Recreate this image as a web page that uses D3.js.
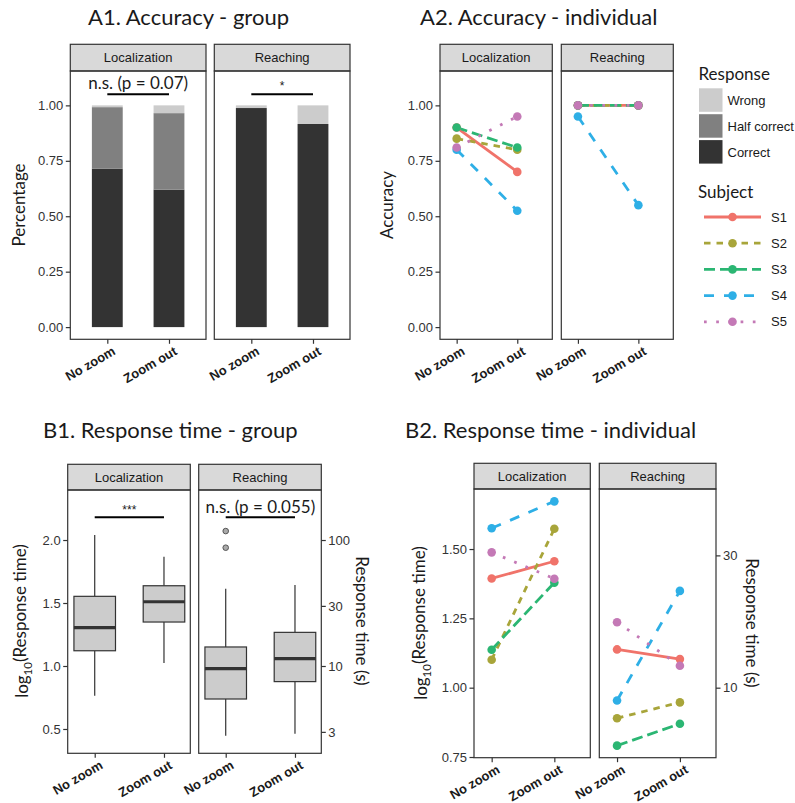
<!DOCTYPE html>
<html><head><meta charset="utf-8">
<script src="https://cdn.jsdelivr.net/npm/d3@7"></script>
<style>body{margin:0;background:#fff}</style>
</head><body>
<svg id="c" width="795" height="803"></svg>
<script>
// ---------------- data ----------------
const conditions = ["No zoom", "Zoom out"];
const tasks = ["Localization", "Reaching"];
const responses = ["Wrong", "Half correct", "Correct"];
const responseColors = ["#CCCCCC", "#808080", "#333333"];

// A1: proportions per condition (No zoom, Zoom out)
const accCorrectLoc = [0.714, 0.620];
const accHalfLoc = [0.278, 0.345];
const accWrongLoc = [0.008, 0.035];
const accCorrectReach = [0.988, 0.916];
const accHalfReach = [0.000, 0.000];
const accWrongReach = [0.012, 0.084];
const accTicks = [0, 0.25, 0.5, 0.75, 1.0];
const sigA1 = ["n.s. (p = 0.07)", "*"];

// A2: individual accuracy, [No zoom, Zoom out] per subject
const subjects = ["S1", "S2", "S3", "S4", "S5"];
const subjectColors = ["#F0736A", "#A8A53A", "#2BB673", "#2EAFE6", "#C479B6"];
const subjectDash = [null, "6.5,6", "11,5", "10,10", "2.7,9.5"];
const accIndLoc = [[0.90, 0.70], [0.85, 0.80], [0.90, 0.81], [0.80, 0.525], [0.81, 0.95]];
const accIndReach = [[1.00, 1.00], [1.00, 1.00], [1.00, 1.00], [0.95, 0.55], [1.00, 1.00]];

// B1: boxplot stats [lower whisker, Q1, median, Q3, upper whisker] of log10(RT)
const rtBoxLoc = [[0.764, 1.121, 1.304, 1.553, 2.040], [1.024, 1.349, 1.510, 1.637, 1.868]];
const rtBoxReach = [[0.447, 0.738, 0.979, 1.151, 1.613], [0.463, 0.876, 1.058, 1.267, 1.643]];
const rtOutLoc = [[], []];
const rtOutReach = [[2.071, 1.939], []];
const rtTicksB1 = [0.5, 1.0, 1.5, 2.0];
const rtSecTicksB1 = [3, 10, 30, 100];
const sigB1 = ["***", "n.s. (p = 0.055)"];

// B2: individual log10(RT), [No zoom, Zoom out]
const rtIndLoc = [[1.394, 1.456], [1.101, 1.573], [1.137, 1.379], [1.575, 1.672], [1.488, 1.393]];
const rtIndReach = [[1.138, 1.103], [0.890, 0.947], [0.791, 0.870], [0.954, 1.349], [1.236, 1.079]];
const rtTicksB2 = [0.75, 1.00, 1.25, 1.50];
const rtSecTicksB2 = [10, 30];

// ---------------- drawing ----------------
const svg = d3.select("#c");
const TF = "Lato, 'Open Sans', sans-serif";
const AF = "'Liberation Sans', Arial, sans-serif";
const INK = "#333333";

function facets(opt) {
  const y = d3.scaleLinear().domain(opt.yDomain).range([opt.bottom, opt.stripBottom]);
  opt.panels.forEach((p, i) => {
    const x = d3.scaleLinear().domain(opt.xDomain).range(p);
    const g = svg.append("g");
    g.append("rect").attr("x", p[0]).attr("y", opt.stripTop)
      .attr("width", p[1] - p[0]).attr("height", opt.stripBottom - opt.stripTop)
      .attr("fill", "#D9D9D9").attr("stroke", INK).attr("stroke-width", 1.2);
    g.append("text").text(tasks[i])
      .attr("x", (p[0] + p[1]) / 2).attr("y", (opt.stripTop + opt.stripBottom) / 2)
      .attr("dy", "0.36em").attr("text-anchor", "middle")
      .attr("font-family", AF).attr("font-size", 13).attr("fill", "#1a1a1a");
    opt.draw(g, i, x, y);
    g.append("rect").attr("x", p[0]).attr("y", opt.stripBottom)
      .attr("width", p[1] - p[0]).attr("height", opt.bottom - opt.stripBottom)
      .attr("fill", "none").attr("stroke", INK).attr("stroke-width", 1.2);
    // x axis
    const xa = g.append("g").attr("transform", `translate(0,${opt.bottom})`)
      .call(d3.axisBottom(x).tickValues([1, 2]).tickFormat(d => conditions[d - 1]).tickSize(4.5));
    xa.select(".domain").remove();
    xa.selectAll("line").attr("stroke", INK).attr("stroke-width", 1.2);
    xa.selectAll("text").attr("x", 0).attr("y", 0).attr("dy", null)
      .attr("text-anchor", "end").attr("transform", "translate(8.5,14.5) rotate(-30)")
      .attr("font-family", AF).attr("font-size", 13).attr("font-weight", "bold").attr("fill", "#1a1a1a");
    if (i === 0) {
      const ya = g.append("g").attr("transform", `translate(${p[0]},0)`)
        .call(d3.axisLeft(y).tickValues(opt.yTicks).tickFormat(opt.yFmt).tickSize(4.5).tickPadding(2.5));
      ya.select(".domain").remove();
      ya.selectAll("line").attr("stroke", INK).attr("stroke-width", 1.2);
      ya.selectAll("text").attr("font-family", AF).attr("font-size", 13).attr("fill", INK);
    }
    if (i === 1 && opt.secTicks) {
      const sa = g.append("g").attr("transform", `translate(${p[1]},0)`)
        .call(d3.axisRight(y).tickValues(opt.secTicks.map(v => Math.log10(v)))
          .tickFormat(v => d3.format("d")(Math.round(Math.pow(10, v)))).tickSize(4.5).tickPadding(2.5));
      sa.select(".domain").remove();
      sa.selectAll("line").attr("stroke", INK).attr("stroke-width", 1.2);
      sa.selectAll("text").attr("font-family", AF).attr("font-size", 13).attr("fill", INK);
    }
  });
  return y;
}

function title(txt, x, y) {
  svg.append("text").text(txt).attr("x", x).attr("y", y)
    .attr("font-family", TF).attr("font-size", 22).attr("fill", "#1a1a1a");
}
function yLabel(txt, x, y, rot) {
  return svg.append("text").text(txt).attr("transform", `translate(${x},${y}) rotate(${rot})`)
    .attr("text-anchor", "middle").attr("dy", "0.35em")
    .attr("font-family", TF).attr("font-size", 17).attr("fill", "#1a1a1a");
}
function logLabel(x, y) {
  const t = svg.append("text").attr("transform", `translate(${x},${y}) rotate(-90)`)
    .attr("text-anchor", "middle").attr("dy", "0.35em")
    .attr("font-family", TF).attr("font-size", 17).attr("fill", "#1a1a1a");
  t.append("tspan").text("log");
  t.append("tspan").text("10").attr("font-size", 11.5).attr("dy", "0.35em");
  t.append("tspan").text("(Response time)").attr("dy", "-0.35em");
}
function sig(g, x, y, lineV, textV, label) {
  g.append("line").attr("x1", x(1)).attr("x2", x(2)).attr("y1", y(lineV)).attr("y2", y(lineV))
    .attr("stroke", "#000").attr("stroke-width", 2);
  const star = label.indexOf("*") === 0;
  g.append("text").text(label).attr("x", (x(1) + x(2)) / 2).attr("y", y(textV))
    .attr("dy", star ? "0.55em" : "0.33em").attr("text-anchor", "middle")
    .attr("font-family", star ? AF : TF).attr("font-size", star ? 12 : 17).attr("fill", "#1a1a1a");
}
function lines(g, x, y, data) {
  data.forEach((vals, s) => {
    g.append("path").datum(vals)
      .attr("d", d3.line().x((d, k) => x(k + 1)).y(d => y(d)))
      .attr("fill", "none").attr("stroke", subjectColors[s]).attr("stroke-width", 2.8)
      .attr("stroke-dasharray", subjectDash[s]);
  });
  data.forEach((vals, s) => {
    g.selectAll(null).data(vals).enter().append("circle")
      .attr("cx", (d, k) => x(k + 1)).attr("cy", d => y(d)).attr("r", 4.3)
      .attr("fill", subjectColors[s]);
  });
}

// ---- A1 ----
title("A1. Accuracy - group", 88, 25);
facets({
  panels: [[70.3, 206], [214.3, 350]], stripTop: 44.3, stripBottom: 71, bottom: 339.3,
  yDomain: [-0.055, 1.155], xDomain: [0.4, 2.6], yTicks: accTicks, yFmt: d3.format(".2f"),
  draw: (g, i, x, y) => {
    const stacks = i === 0 ? [accCorrectLoc, accHalfLoc, accWrongLoc] : [accCorrectReach, accHalfReach, accWrongReach];
    const cols = [responseColors[2], responseColors[1], responseColors[0]];
    conditions.forEach((c, k) => {
      let base = 0;
      stacks.forEach((arr, j) => {
        const v = arr[k];
        if (v > 0) {
          g.append("rect").attr("x", x(k + 1 - 0.25)).attr("width", x(k + 1.25) - x(k + 0.75))
            .attr("y", y(base + v)).attr("height", y(base) - y(base + v)).attr("fill", cols[j]);
        }
        base += v;
      });
    });
    sig(g, x, y, 1.05, 1.1, sigA1[i]);
  }
});
yLabel("Percentage", 19, 205, -90);

// ---- A2 ----
title("A2. Accuracy - individual", 420, 25);
facets({
  panels: [[440, 552.3], [561.3, 673.3]], stripTop: 44.3, stripBottom: 71, bottom: 339.3,
  yDomain: [-0.055, 1.155], xDomain: [0.725, 2.578], yTicks: accTicks, yFmt: d3.format(".2f"),
  draw: (g, i, x, y) => lines(g, x, y, i === 0 ? accIndLoc : accIndReach)
});
yLabel("Accuracy", 387, 205, -90);

// legends
const lg = svg.append("g");
lg.append("text").text("Response").attr("x", 698.5).attr("y", 80)
  .attr("font-family", TF).attr("font-size", 17).attr("fill", "#1a1a1a");
responses.forEach((r, j) => {
  const yy = 88.3 + j * 25.9;
  lg.append("rect").attr("x", 699).attr("y", yy).attr("width", 23.5).attr("height", 23.5).attr("fill", responseColors[j]);
  lg.append("text").text(r).attr("x", 727.5).attr("y", yy + 11.75).attr("dy", "0.36em")
    .attr("font-family", AF).attr("font-size", 13).attr("fill", "#1a1a1a");
});
lg.append("text").text("Subject").attr("x", 698).attr("y", 197.5)
  .attr("font-family", TF).attr("font-size", 17).attr("fill", "#1a1a1a");
subjects.forEach((s, j) => {
  const yy = 217 + j * 26.2;
  lg.append("line").attr("x1", 704).attr("x2", 761).attr("y1", yy).attr("y2", yy)
    .attr("stroke", subjectColors[j]).attr("stroke-width", 2.8).attr("stroke-dasharray", subjectDash[j]);
  lg.append("circle").attr("cx", 732.5).attr("cy", yy).attr("r", 4.3).attr("fill", subjectColors[j]);
  lg.append("text").text(s).attr("x", 771).attr("y", yy).attr("dy", "0.36em")
    .attr("font-family", AF).attr("font-size", 13).attr("fill", "#1a1a1a");
});

// ---- B1 ----
title("B1. Response time - group", 43, 438.3);
facets({
  panels: [[67.7, 190.3], [198.7, 321.3]], stripTop: 464.3, stripBottom: 490, bottom: 753.3,
  yDomain: [0.307, 2.397], xDomain: [0.61, 2.38], yTicks: rtTicksB1, yFmt: d3.format(".1f"),
  secTicks: rtSecTicksB1,
  draw: (g, i, x, y) => {
    const boxes = i === 0 ? rtBoxLoc : rtBoxReach;
    const outs = i === 0 ? rtOutLoc : rtOutReach;
    boxes.forEach((b, k) => {
      const cx = x(k + 1), hw = x(k + 1.3) - x(k + 1);
      g.append("line").attr("x1", cx).attr("x2", cx).attr("y1", y(b[3])).attr("y2", y(b[4])).attr("stroke", INK).attr("stroke-width", 1.2);
      g.append("line").attr("x1", cx).attr("x2", cx).attr("y1", y(b[0])).attr("y2", y(b[1])).attr("stroke", INK).attr("stroke-width", 1.2);
      g.append("rect").attr("x", cx - hw).attr("width", 2 * hw).attr("y", y(b[3])).attr("height", y(b[1]) - y(b[3]))
        .attr("fill", "#CCCCCC").attr("stroke", INK).attr("stroke-width", 1.2);
      g.append("line").attr("x1", cx - hw).attr("x2", cx + hw).attr("y1", y(b[2])).attr("y2", y(b[2])).attr("stroke", INK).attr("stroke-width", 3.2);
      outs[k].forEach(o => g.append("circle").attr("cx", cx).attr("cy", y(o)).attr("r", 2.8)
        .attr("fill", "#AAAAAA").attr("stroke", "#555").attr("stroke-width", 1));
    });
    sig(g, x, y, 2.18, 2.26, sigB1[i]);
  }
});
logLabel(22, 621);
yLabel("Response time (s)", 362, 621, 90);

// ---- B2 ----
title("B2. Response time - individual", 405, 438);
facets({
  panels: [[474, 590.3], [599.3, 716]], stripTop: 463.3, stripBottom: 489, bottom: 757.7,
  yDomain: [0.7475, 1.7165], xDomain: [0.718, 2.574], yTicks: rtTicksB2, yFmt: d3.format(".2f"),
  secTicks: rtSecTicksB2,
  draw: (g, i, x, y) => lines(g, x, y, i === 0 ? rtIndLoc : rtIndReach)
});
logLabel(421, 623);
yLabel("Response time (s)", 752, 623, 90);
</script>
</body></html>
